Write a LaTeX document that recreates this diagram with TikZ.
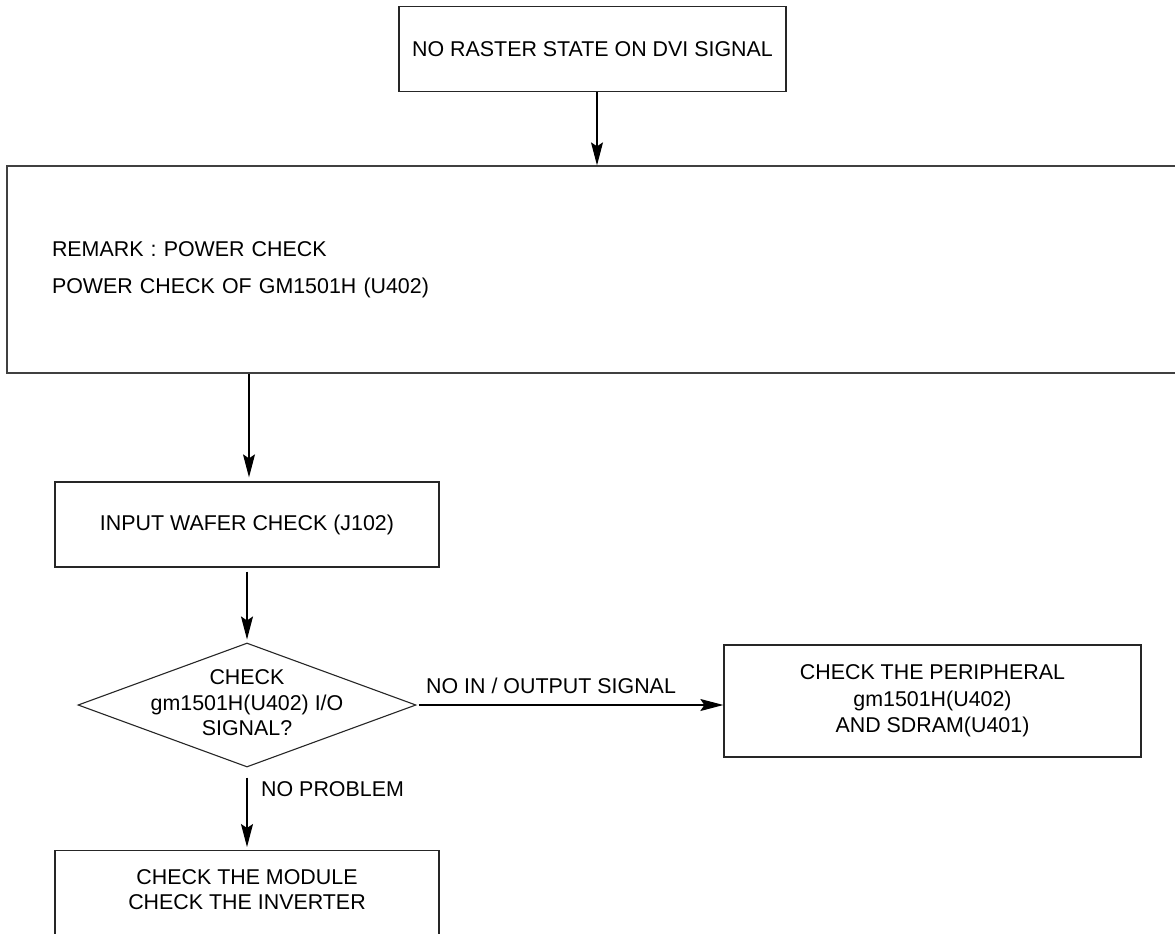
\documentclass[tikz,border=0pt]{standalone}
\usepackage{fontspec}
\setmainfont{Liberation Sans}
\usetikzlibrary{arrows.meta,shapes.geometric}
\begin{document}
\begin{tikzpicture}[x=1pt,y=-1pt,
  txt/.style={font=\fontsize{21.4}{25.5}\selectfont, align=center, inner sep=0pt},
  box/.style={draw=black!85, line width=1.3pt, txt},
  arr/.style={draw=black, line width=1.1pt, -{Stealth[length=23pt,width=12pt,inset=4pt]}}
]
\useasboundingbox (0,0) rectangle (1175,934);
\clip (0,0) rectangle (1175,934);
\fill[white] (0,0) rectangle (1175,934);

\node[box, minimum width=387pt, minimum height=85pt] (start) at (592.5,49) {NO RASTER STATE ON DVI SIGNAL};

\node[box, draw=black!75, minimum height=207pt, inner xsep=45pt, text width=1090pt, align=left,
      font=\fontsize{21.4}{37}\selectfont] (power) at (597,269.5)
  {REMARK : POWER CHECK\\POWER CHECK OF GM1501H (U402)};

\node[box, minimum width=384pt, minimum height=85pt] (input) at (247,524.5) {INPUT WAFER CHECK (J102)};

\node[diamond, draw=black!85, line width=1.1pt, minimum width=338pt, minimum height=124pt, inner sep=0pt] (dec) at (247,705) {};
\node[txt] (dectext) at (247,703) {CHECK\\gm1501H(U402) I/O\\SIGNAL?};

\node[box, minimum width=417pt, minimum height=112pt, font=\fontsize{21.4}{26.5}\selectfont] (periph) at (932.5,701)
  {CHECK THE PERIPHERAL\\gm1501H(U402)\\AND SDRAM(U401)};

\node[draw=black!85, line width=1.3pt, minimum width=384pt, minimum height=110pt, anchor=north, inner sep=0pt] (final) at (247,850) {};
\node[txt, font=\fontsize{21.4}{25}\selectfont] (finaltext) at (247,889.5) {CHECK THE MODULE\\CHECK THE INVERTER};

\draw[arr] (start.south -| power.north) -- (power.north);
\draw[arr] ([xshift=2pt]input.north |- power.south) -- ([xshift=2pt,yshift=4pt]input.north);
\draw[arr] ([yshift=-4pt]input.south) -- ([yshift=3pt]dec.north);
\draw[arr] ([xshift=2pt]dec.east) -- (dec.east -| periph.west);
\draw[arr] ([yshift=-10pt]dec.south) -- ([yshift=3pt]final.north);

\node[txt, anchor=base west] (lblno) at (426,693.5) {NO IN / OUTPUT SIGNAL};
\node[txt, anchor=base west] (lblok) at (261,796.5) {NO PROBLEM};
\end{tikzpicture}
\end{document}
